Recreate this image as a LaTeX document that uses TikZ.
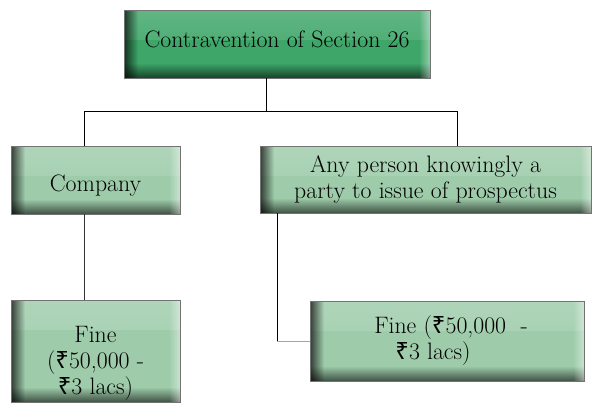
\documentclass[tikz,border=0pt]{standalone}
\usepackage{fontspec}
\newfontfamily\rupeefont{Noto Sans}
\usetikzlibrary{fadings}

\newcommand\rupee{{\rupeefont\char"20B9}}

\definecolor{deepgreen}{RGB}{62,166,104}
\definecolor{palegreen}{RGB}{158,204,170}

% soft gradients used for the bevel of every box
\tikzfading[name=fadeE, left color=transparent!0, right color=transparent!100]
\tikzfading[name=fadeW, left color=transparent!100, right color=transparent!0]
\tikzfading[name=fadeN, bottom color=transparent!0, top color=transparent!100]
\tikzfading[name=fadeS, top color=transparent!0, bottom color=transparent!100]

\tikzset{
  bevelbox/.style={rectangle, draw=black!55, line width=0.8pt, inner sep=0pt,
    align=center, font=\fontsize{23.8}{26}\selectfont, fill=#1,
    path picture={
      % light sheen along the top
      \fill[white, opacity=0.18, path fading=fadeS]
        (path picture bounding box.north west) rectangle ([yshift=-30pt]path picture bounding box.north east);
      % dark band along the bottom
      \fill[black, opacity=0.6, path fading=fadeN]
        ([yshift=15pt]path picture bounding box.south west) rectangle (path picture bounding box.south east);
      % dark edge on the left
      \fill[black, opacity=0.7, path fading=fadeE]
        (path picture bounding box.south west) rectangle ([xshift=14pt]path picture bounding box.north west);
      % bright edge on the right
      \fill[white, opacity=0.45, path fading=fadeW]
        ([xshift=-11pt]path picture bounding box.south east) rectangle (path picture bounding box.north east);
    }},
  link/.style={line width=1pt, draw=black}
}

\begin{document}
\begin{tikzpicture}[x=1pt, y=1pt]
  \useasboundingbox (0,0) rectangle (592,-403);

  \node[bevelbox=deepgreen, minimum width=306, minimum height=68,
        text height=16pt, text depth=8pt] (top) at (277,-44)
    {Contravention of Section 26};

  \node[bevelbox=palegreen, minimum width=169, minimum height=68,
        text height=23pt, text depth=0pt] (company) at (95.5,-180)
    {Company};

  \node[bevelbox=palegreen, minimum width=331, minimum height=67] (person) at (425.5,-179.5)
    {Any person knowingly a\\party to issue of prospectus};

  \node[bevelbox=palegreen, minimum width=169, minimum height=102] (fineL) at (95.5,-351)
    {\rule{0pt}{40pt}Fine\\(\rupee50,000 -\\\rupee3 lacs)};

  \node[bevelbox=palegreen, minimum width=274, minimum height=80] (fineR) at (447,-341)
    {\hspace*{8pt}Fine (\rupee50,000\ \ -\\\rupee3 lacs)\hspace*{28pt}};

  % junction points of the tree
  \coordinate (j)  at (266,-112);
  \coordinate (jl) at (84,-112);
  \coordinate (jr) at (457,-112);
  \coordinate (elbow) at (277,-342);

  \draw[link] (top.south -| j) -- (j);
  \draw[link] (company.north -| jl) -- (jl) -- (jr) -- (person.north -| jr);
  \draw[link, draw=black!80] (company.south -| jl) -- (fineL.north -| jl);
  \draw[link] (person.south -| elbow) -- (elbow);
  \draw[link, draw=black!35] (elbow) -- (fineR.west |- elbow);
\end{tikzpicture}
\end{document}
